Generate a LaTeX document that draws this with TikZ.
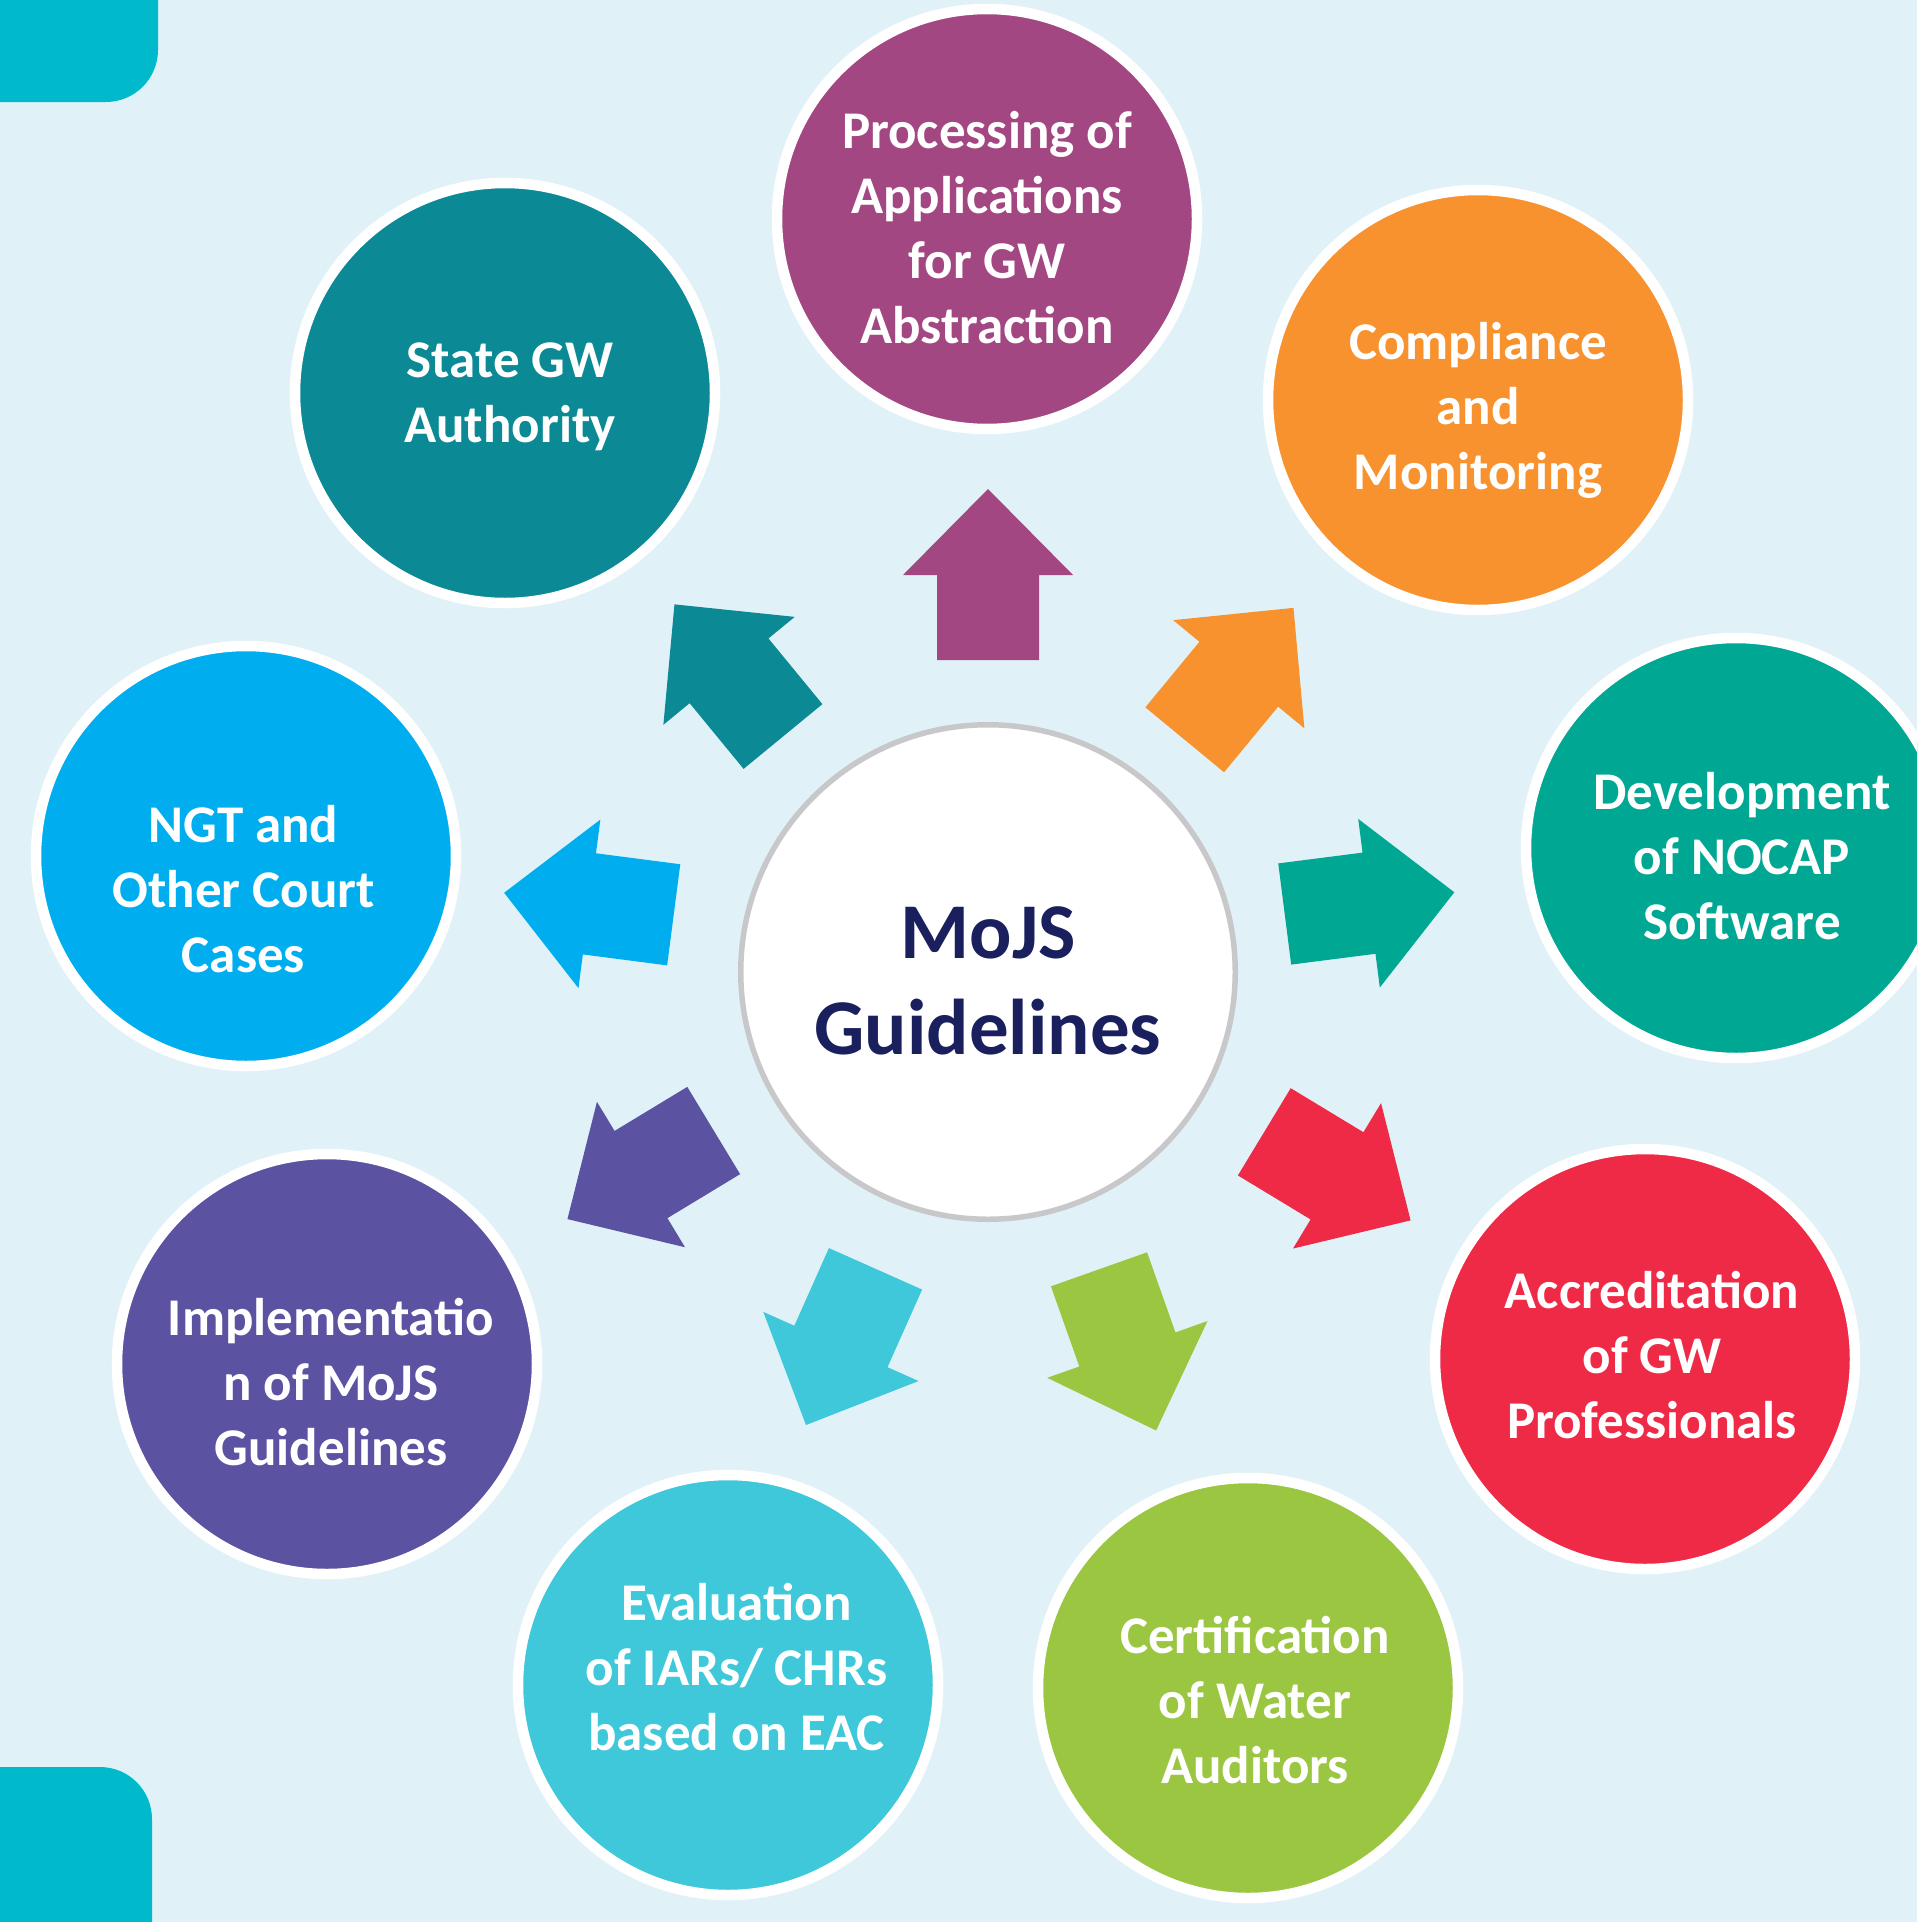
\documentclass[tikz,border=0pt]{standalone}
\usepackage{fontspec}
\setmainfont{Carlito}
\usetikzlibrary{calc}
\definecolor{bg}{RGB}{224,242,248}
\definecolor{corner}{RGB}{0,186,203}
\definecolor{cproc}{RGB}{163,71,131}
\definecolor{ccomp}{RGB}{247,146,46}
\definecolor{cdev}{RGB}{0,168,148}
\definecolor{caccr}{RGB}{238,42,71}
\definecolor{ccert}{RGB}{155,198,65}
\definecolor{ceval}{RGB}{62,200,218}
\definecolor{cimpl}{RGB}{92,82,162}
\definecolor{cngt}{RGB}{0,174,239}
\definecolor{cstate}{RGB}{11,137,149}
\definecolor{cgray}{RGB}{200,200,202}
\definecolor{navy}{RGB}{26,31,94}
% #1 = offset of shaft base from centre node, #2 = direction, #3 = colour
\newcommand\blockarrow[3]{\fill[#3, shift={($(c)+(#1)$)}, rotate=#2] (0,-51) -- (85,-51) -- (85,-85) -- (171,0) -- (85,85) -- (85,51) -- (0,51) -- cycle;}
\begin{document}
\begin{tikzpicture}[x=0.5pt,y=-0.5pt,
  bub/.style={circle, draw=white, line width=5.25pt, minimum size=210pt, inner sep=0pt},
  lbl/.style={text=white, align=center, inner sep=0pt, font=\bfseries\fontsize{26.5}{32.5}\selectfont},
  hub/.style={circle, draw=cgray, line width=2.75pt, fill=white, minimum size=247.25pt, inner sep=0pt},
  hubtext/.style={text=navy, align=center, inner sep=0pt, font=\bfseries\fontsize{39.5}{48.2}\selectfont}]
\useasboundingbox (0,0) rectangle (1917,1922);
\clip (0,0) rectangle (1917,1922);
\fill[bg] (0,0) rectangle (1917,1922);
\fill[corner, rounded corners=26pt] (-100,-100) rectangle (158,102);
\fill[corner, rounded corners=26pt] (-100,1767) rectangle (152,2100);
\node[hub] (c) at (988,972) {};
\node[hubtext] (ct) at ($(c)+(0,9)$) {MoJS\\Guidelines};
\blockarrow{0,-312}{90}{cproc}
\blockarrow{196.7,-232.2}{50.5}{ccomp}
\blockarrow{296.7,-58}{7.3}{cdev}
\blockarrow{276.3,159.8}{-31.2}{caccr}
\blockarrow{111,297.3}{-70.5}{ccert}
\blockarrow{-112.5,296.8}{-114}{ceval}
\blockarrow{-274.3,158.5}{-148.8}{cimpl}
\blockarrow{-314.3,-57.2}{172.6}{cngt}
\blockarrow{-205,-235.5}{129.4}{cstate}
\node[bub, fill=cproc] (proc) at (987,219) {};
\node[bub, fill=ccomp] (comp) at (1478,400) {};
\node[bub, fill=cdev] (dev) at (1736,848) {};
\node[bub, fill=caccr] (accr) at (1645,1359) {};
\node[bub, fill=ccert] (cert) at (1248,1688) {};
\node[bub, fill=ceval] (eval) at (728,1685) {};
\node[bub, fill=cimpl] (impl) at (327,1364) {};
\node[bub, fill=cngt] (ngt) at (246,856) {};
\node[bub, fill=cstate] (state) at (505,393) {};
\node[lbl] (procT) at ($(proc)+(0,8.5)$) {Processing of\\Applications\\for GW\\Abstraction};
\node[lbl] (compT) at ($(comp)+(0,10)$) {Compliance\\and\\Monitoring};
\node[lbl] (devT) at ($(dev)+(6,8.5)$) {Development\\of NOCAP\\Software};
\node[lbl] (accrT) at ($(accr)+(7,-3.5)$) {Accreditation\\of GW\\Professionals};
\node[lbl] (certT) at ($(cert)+(7,12)$) {Certification\\of Water\\Auditors};
\node[lbl] (evalT) at ($(eval)+(8.5,-18)$) {Evaluation\\of IARs/ CHRs\\based on EAC};
\node[lbl] (implT) at ($(impl)+(4,18)$) {Implementatio\\n of MoJS\\Guidelines};
\node[lbl] (ngtT) at ($(ngt)+(-2.5,33)$) {NGT and\\Other Court\\Cases};
\node[lbl] (stateT) at ($(state)+(5,4)$) {State GW\\Authority};
\end{tikzpicture}
\end{document}
